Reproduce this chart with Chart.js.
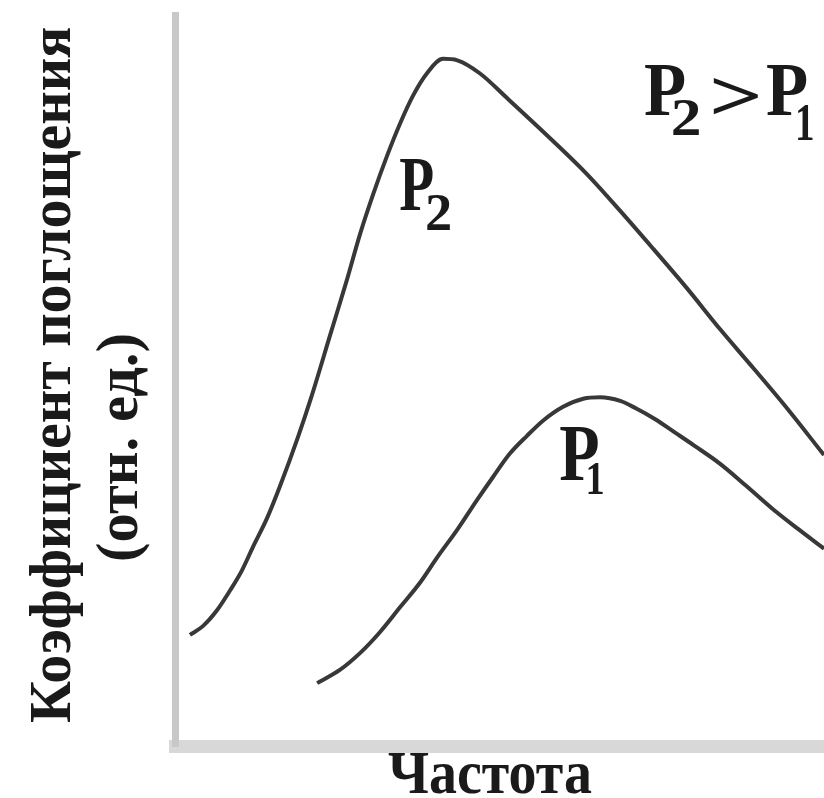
<!DOCTYPE html>
<html lang="ru">
<head>
<meta charset="utf-8">
<title>Коэффициент поглощения</title>
<script src="https://cdn.jsdelivr.net/npm/chart.js@4/dist/chart.umd.min.js"></script>
<style>
    html, body { margin: 0; padding: 0; background: #fff; }
    #wrap { width: 824px; height: 798px; position: relative; }
</style>
</head>
<body>
<div id="wrap"><canvas id="absorptionChart"></canvas></div>
<script>
// Кривая при давлении P2 (частота, коэффициент поглощения)
const frequencyP2 = [0.23, 0.43, 0.65, 0.85, 1.03, 1.20, 1.42, 1.62, 1.90, 2.11, 2.39, 2.65, 2.85, 3.05, 3.27, 3.47, 3.67, 3.88, 4.13, 4.35, 4.70, 5.12, 5.82, 6.35, 6.86, 7.37, 7.89, 8.40, 8.91, 9.43, 10.0];
const absorptionP2 = [1.52, 1.64, 1.86, 2.13, 2.40, 2.72, 3.12, 3.56, 4.24, 4.80, 5.62, 6.38, 7.00, 7.54, 8.08, 8.52, 8.90, 9.20, 9.40, 9.38, 9.20, 8.86, 8.28, 7.82, 7.32, 6.80, 6.26, 5.70, 5.17, 4.62, 3.98];

// Кривая при давлении P1
const frequencyP1 = [2.19, 2.54, 2.85, 3.16, 3.47, 3.78, 4.04, 4.35, 4.65, 4.90, 5.16, 5.42, 5.67, 5.98, 6.29, 6.55, 6.86, 7.10, 7.40, 7.70, 8.00, 8.40, 8.80, 9.20, 9.60, 10.0];
const absorptionP1 = [0.86, 1.04, 1.27, 1.56, 1.90, 2.24, 2.58, 2.96, 3.36, 3.68, 4.00, 4.24, 4.45, 4.64, 4.75, 4.77, 4.72, 4.62, 4.47, 4.29, 4.11, 3.86, 3.56, 3.25, 2.97, 2.70];

// Подписи
const yTitle = ['Коэффициент поглощения', '(отн. ед.)'];
const xTitle = 'Частота';
const pressureSymbol = 'P';
const pressureIndex = ['1', '2'];
const compareSign = '>';

const toPoints = (xs, ys) => xs.map((x, i) => ({ x: x, y: ys[i] }));

// Рисует текст так, чтобы его видимая часть начиналась в (x, y) и имела ширину width
function drawText(ctx, text, x, y, size, width, angle = 0) {
    ctx.save();
    ctx.translate(x, y);
    ctx.rotate(angle);
    ctx.font = `bold ${size}px "Liberation Serif", "Times New Roman", serif`;
    ctx.textAlign = 'left';
    ctx.textBaseline = 'alphabetic';
    const m = ctx.measureText(text);
    const inkWidth = m.actualBoundingBoxLeft + m.actualBoundingBoxRight;
    const sx = width ? width / inkWidth : 1;
    ctx.scale(sx, 1);
    ctx.fillText(text, m.actualBoundingBoxLeft, 0);
    ctx.restore();
}

// Плагин для подписей осей и кривых
const labelsPlugin = {
    id: 'labels',
    afterDraw(chart) {
        const ctx = chart.ctx;
        ctx.save();
        ctx.fillStyle = '#1a1a1a';

        // подпись оси Y (повёрнута)
        drawText(ctx, yTitle[0], 70, 722, 60, 694, -Math.PI / 2);
        drawText(ctx, yTitle[1], 137, 560, 60, 225, -Math.PI / 2);

        // подпись оси X
        drawText(ctx, xTitle, 388, 793, 62, 204);

        // P2 у верхней кривой
        drawText(ctx, pressureSymbol, 400, 210, 78, 33);
        drawText(ctx, pressureIndex[1], 427, 230, 52, 23);

        // P1 у нижней кривой
        drawText(ctx, pressureSymbol, 560, 480, 80, 38);
        drawText(ctx, pressureIndex[0], 588, 494, 46, 15);

        // P2 > P1 в правом верхнем углу
        drawText(ctx, pressureSymbol, 645, 115, 76, 40);
        drawText(ctx, pressureIndex[1], 673, 135, 52, 26);
        drawText(ctx, compareSign, 713, 120, 72, 46);
        drawText(ctx, pressureSymbol, 767, 115, 76, 40);
        drawText(ctx, pressureIndex[0], 798, 140, 52, 15);

        ctx.restore();
    }
};

document.addEventListener('DOMContentLoaded', () => {
    const ctx = document.getElementById('absorptionChart').getContext('2d');
    const lineStyle = {
        showLine: true,
        borderColor: '#383838',
        borderWidth: 4,
        pointRadius: 0,
        cubicInterpolationMode: 'monotone',
        fill: false
    };

    new Chart(ctx, {
        type: 'scatter',
        data: {
            datasets: [
                Object.assign({ label: 'P2', data: toPoints(frequencyP2, absorptionP2) }, lineStyle),
                Object.assign({ label: 'P1', data: toPoints(frequencyP1, absorptionP1) }, lineStyle)
            ]
        },
        options: {
            responsive: true,
            maintainAspectRatio: false,
            animation: false,
            layout: {
                padding: { left: 175, right: 0, top: 15, bottom: 52 }
            },
            plugins: {
                legend: { display: false },
                tooltip: { enabled: false }
            },
            scales: {
                x: {
                    type: 'linear',
                    min: 0,
                    max: 10,
                    grid: { display: false, drawTicks: false },
                    ticks: { display: false },
                    border: { display: true, color: '#d8d8d8', width: 13 }
                },
                y: {
                    type: 'linear',
                    min: 0,
                    max: 10,
                    grid: { display: false, drawTicks: false },
                    ticks: { display: false },
                    border: { display: true, color: '#c8c8c8', width: 7 }
                }
            }
        },
        plugins: [labelsPlugin]
    });
});
</script>
</body>
</html>
